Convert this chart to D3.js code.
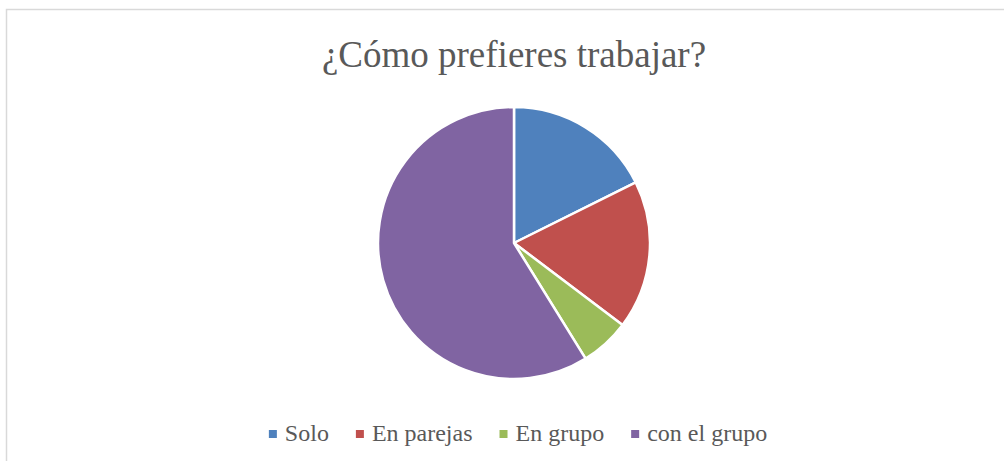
<!DOCTYPE html>
<html>
<head>
<meta charset="utf-8">
<script src="https://cdn.jsdelivr.net/npm/d3@7"></script>
<style>
  body { margin: 0; background: #fff; }
  svg { display: block; }
</style>
</head>
<body>
<svg id="chart"></svg>
<script>
// chart data
const categories = ["Solo", "En parejas", "En grupo", "con el grupo"];
const values = [3, 3, 1, 10];
const colors = ["#4f81bd", "#c0504d", "#9bbb59", "#8064a2"];
const title = "¿Cómo prefieres trabajar?";

const width = 1004, height = 461;
const cx = 514, cy = 243, radius = 136;
const serif = '"Liberation Serif"';

const svg = d3.select("#chart")
    .attr("width", width)
    .attr("height", height);

// chart area border (runs off right/bottom edges)
svg.append("rect")
    .attr("x", 6.5)
    .attr("y", 9.5)
    .attr("width", width + 20)
    .attr("height", height + 20)
    .attr("fill", "#fff")
    .attr("stroke", "#d9d9d9")
    .attr("stroke-width", 1.5);

// title
svg.append("text")
    .attr("x", cx)
    .attr("y", 67)
    .attr("text-anchor", "middle")
    .style("font-family", serif)
    .style("font-size", "37px")
    .style("fill", "#595959")
    .text(title);

const pie = d3.pie().sort(null).value(d => d);
const arc = d3.arc().innerRadius(0).outerRadius(radius);

const g = svg.append("g").attr("transform", `translate(${cx},${cy})`);

g.selectAll("path")
    .data(pie(values))
    .enter()
    .append("path")
    .attr("d", arc)
    .attr("fill", (d, i) => colors[i])
    .attr("stroke", "#fff")
    .attr("stroke-width", 2.5)
    .attr("stroke-linejoin", "round");

// legend
const legend = svg.append("g");
const items = legend.selectAll("g")
    .data(categories)
    .enter()
    .append("g");

items.append("rect")
    .attr("width", 8)
    .attr("height", 8)
    .attr("y", -11)
    .attr("fill", (d, i) => colors[i]);

items.append("text")
    .attr("x", 16)
    .style("font-family", serif)
    .style("font-size", "24px")
    .style("fill", "#595959")
    .text(d => d);

// place items side by side, using measured text widths
let x = 0;
items.each(function () {
    const w = d3.select(this).select("text").node().getComputedTextLength();
    d3.select(this).attr("transform", `translate(${x},0)`);
    x += 16 + w + 27;
});
const total = x - 27;
legend.attr("transform", `translate(${518 - total / 2},441)`);
</script>
</body>
</html>
